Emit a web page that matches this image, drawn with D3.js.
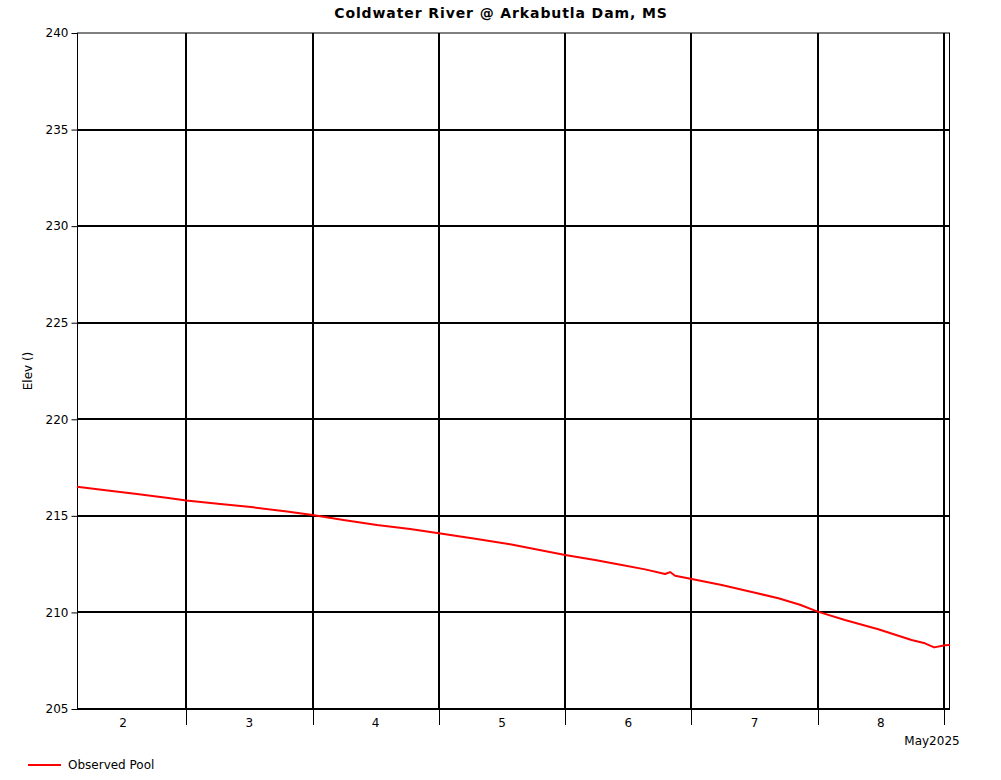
<!DOCTYPE html>
<html>
<head>
<meta charset="utf-8">
<script src="https://cdn.jsdelivr.net/npm/d3@7"></script>
<style>
  html, body { margin: 0; padding: 0; background: #fff; }
  svg { display: block; font-family: "DejaVu Sans", Verdana, sans-serif; }
</style>
</head>
<body>
<svg id="chart" width="1001" height="780"></svg>
<script>
// ---- Data ----
const chartTitle = "Coldwater River @ Arkabutla Dam, MS";
const yAxisLabel = "Elev ()";
const seriesName = "Observed Pool";
const monthLabel = "May2025";

const obsTimes = [
  "2025-05-02T03:14", "2025-05-02T08:17", "2025-05-02T14:38", "2025-05-02T20:57",
  "2025-05-03T00:00", "2025-05-03T06:28", "2025-05-03T12:47", "2025-05-03T19:08",
  "2025-05-04T00:00", "2025-05-04T05:53", "2025-05-04T12:14", "2025-05-04T18:33",
  "2025-05-05T00:00", "2025-05-05T07:14", "2025-05-05T13:33", "2025-05-06T00:00",
  "2025-05-06T05:42", "2025-05-06T10:47", "2025-05-06T15:12", "2025-05-06T19:00",
  "2025-05-06T19:57", "2025-05-06T20:54", "2025-05-07T00:04", "2025-05-07T05:46",
  "2025-05-07T12:06", "2025-05-07T16:32", "2025-05-07T20:38", "2025-05-08T00:00",
  "2025-05-08T05:11", "2025-05-08T11:31", "2025-05-08T17:51", "2025-05-08T20:23",
  "2025-05-08T22:09", "2025-05-09T00:11", "2025-05-09T01:09"
];
const obsElev = [
  216.51, 216.34, 216.13, 215.91,
  215.79, 215.61, 215.44, 215.22,
  215.04, 214.79, 214.53, 214.32,
  214.10, 213.80, 213.53, 212.97,
  212.71, 212.46, 212.23, 211.99,
  212.09, 211.90, 211.73, 211.42,
  211.02, 210.73, 210.40, 210.04,
  209.61, 209.13, 208.57, 208.40,
  208.19, 208.30, 208.31
];
const yDomain = [205, 240];
const yTicks = [205, 210, 215, 220, 225, 230, 235, 240];

// ---- Chart ----
const svg = d3.select("#chart");
const margin = { left: 77, right: 51, top: 33, bottom: 71 };
const W = 1001, H = 780;
const x0 = margin.left, x1 = W - margin.right, y0 = margin.top, y1 = H - margin.bottom;

const parse = d3.utcParse("%Y-%m-%dT%H:%M");
const data = obsTimes.map((t, i) => ({ t: parse(t), v: obsElev[i] }));

const x = d3.scaleUtc().domain(d3.extent(data, d => d.t)).range([x0, x1]);
const y = d3.scaleLinear().domain(yDomain).range([y1, y0]);

// Title
svg.append("text")
  .attr("x", 501).attr("y", 18)
  .attr("text-anchor", "middle")
  .attr("font-size", 14)
  .attr("font-weight", "bold")
  .attr("letter-spacing", 0.9)
  .text(chartTitle);

// Horizontal grid lines
const gridH = svg.append("g");
yTicks.forEach(v => {
  gridH.append("line")
    .attr("x1", x0).attr("x2", x1)
    .attr("y1", Math.round(y(v))).attr("y2", Math.round(y(v)))
    .attr("stroke", "#000")
    .attr("stroke-width", v === yDomain[1] ? 1 : 2);
});

// Vertical day lines
const days = d3.utcDay.range(d3.utcDay.ceil(x.domain()[0]), x.domain()[1]);
const gridV = svg.append("g");
days.forEach(d => {
  const px = Math.round(x(d));
  gridV.append("line")
    .attr("x1", px).attr("x2", px)
    .attr("y1", y0).attr("y2", y1)
    .attr("stroke", "#000").attr("stroke-width", 2);
  gridV.append("line")
    .attr("x1", px + 0.5).attr("x2", px + 0.5)
    .attr("y1", y1).attr("y2", y1 + 16)
    .attr("stroke", "#000").attr("stroke-width", 1);
});

// Left axis & right border
svg.append("line").attr("x1", x0 + 0.5).attr("x2", x0 + 0.5).attr("y1", y0).attr("y2", y1)
  .attr("stroke", "#000").attr("stroke-width", 1);
svg.append("line").attr("x1", x1 - 0.5).attr("x2", x1 - 0.5).attr("y1", y0).attr("y2", y1)
  .attr("stroke", "#000").attr("stroke-width", 1);

// Y axis ticks + labels
const yAxis = d3.axisLeft(y).tickValues(yTicks).tickSize(6).tickPadding(3).tickFormat(d3.format("d"));
const gy = svg.append("g").attr("transform", `translate(${x0 + 0.5},0)`).call(yAxis);
gy.select(".domain").remove();
gy.selectAll("text").attr("font-size", 12).attr("font-family", "DejaVu Sans, sans-serif").attr("fill", "#000");
gy.selectAll("line").attr("stroke", "#000");

// X day labels at noon of each day (only those inside the plotted range)
const dayStarts = d3.utcDay.range(d3.utcDay.floor(x.domain()[0]), x.domain()[1])
  .filter(d => d3.utcHour.offset(d, 12) <= x.domain()[1]);
svg.append("g").selectAll("text")
  .data(dayStarts)
  .join("text")
  .attr("x", d => x(d3.utcHour.offset(d, 12)))
  .attr("y", y1 + 18)
  .attr("text-anchor", "middle")
  .attr("font-size", 12)
  .text(d => d3.utcFormat("%-d")(d));

svg.append("text")
  .attr("x", 932).attr("y", y1 + 36)
  .attr("text-anchor", "middle")
  .attr("font-size", 12)
  .text(monthLabel);

// Y axis label
svg.append("text")
  .attr("transform", `translate(32,${(y0 + y1) / 2}) rotate(-90)`)
  .attr("text-anchor", "middle")
  .attr("font-size", 12)
  .text(yAxisLabel);

// Data line
const line = d3.line().x(d => x(d.t)).y(d => y(d.v));
svg.append("path")
  .datum(data)
  .attr("d", line)
  .attr("fill", "none")
  .attr("stroke", "#ff0000")
  .attr("stroke-width", 2)
  .attr("stroke-linejoin", "round");

// Legend
svg.append("line").attr("x1", 28).attr("x2", 61).attr("y1", 765).attr("y2", 765)
  .attr("stroke", "#ff0000").attr("stroke-width", 2);
svg.append("text").attr("x", 68).attr("y", 769).attr("font-size", 12).text(seriesName);
</script>
</body>
</html>
